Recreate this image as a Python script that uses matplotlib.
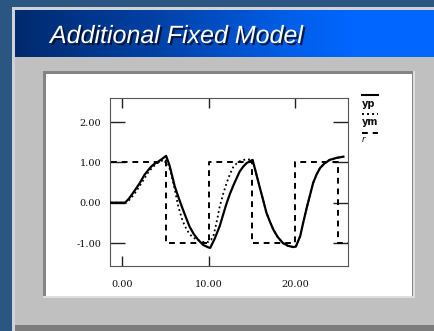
import numpy as np
import matplotlib
matplotlib.use("Agg")
import matplotlib.pyplot as plt
from matplotlib.patches import Rectangle
from matplotlib.lines import Line2D
from matplotlib import patheffects as pe
from matplotlib.colors import LinearSegmentedColormap

# ---------------- data ----------------
t_yp = [-1.3, 0.0, 0.35, 0.8, 1.5, 2.0, 2.6, 3.0, 3.4, 3.8, 4.2, 4.6, 5.1,
        5.5, 6.1, 6.5, 6.9, 7.4, 7.8, 8.3, 8.8, 9.4, 10.0, 10.2, 10.7, 11.3,
        11.7, 12.1, 12.5, 12.9, 13.3, 13.6, 14.0, 14.4, 14.8, 15.1, 15.6,
        15.9, 16.2, 16.7, 17.1, 17.5, 18.0, 18.6, 19.2, 19.8, 20.1, 20.6,
        21.0, 21.4, 21.8, 22.1, 22.5, 22.9, 23.4, 24.0, 24.8, 25.6]
yp = [0.00, 0.00, 0.00, 0.10, 0.31, 0.47, 0.69, 0.80, 0.90, 0.97, 1.02, 1.08, 1.16,
      0.92, 0.40, 0.15, -0.09, -0.37, -0.59, -0.78, -0.92, -1.05, -1.11, -1.12, -0.90, -0.58,
      -0.29, -0.01, 0.23, 0.44, 0.63, 0.77, 0.89, 0.98, 1.03, 1.06, 0.65,
      0.40, 0.16, -0.25, -0.47, -0.67, -0.85, -1.00, -1.07, -1.10, -1.09, -0.83,
      -0.45, -0.09, 0.24, 0.49, 0.70, 0.86, 0.97, 1.06, 1.11, 1.14]

t_ym = [-1.3, 0.0, 0.5, 1.0, 1.5, 2.0, 2.5, 3.0, 3.5, 4.0, 4.5, 5.0, 5.3, 5.7,
        6.1, 6.5, 7.0, 7.5, 8.0, 8.5, 9.0, 9.5, 10.0, 10.3, 10.6, 11.0, 11.3,
        11.7, 12.1, 12.5, 12.9, 13.4, 13.8, 14.3, 14.8, 15.1, 15.6, 15.9,
        16.2, 16.7, 17.1, 17.5, 18.0, 18.6, 19.2, 19.8, 20.1, 20.6, 21.0,
        21.4, 21.8, 22.1, 22.5, 22.9, 23.4, 24.0, 24.8, 25.6]
ym = [0.00, 0.00, 0.00, 0.10, 0.24, 0.40, 0.57, 0.74, 0.87, 0.97, 1.03, 1.07, 0.98, 0.70,
      0.33, -0.09, -0.45, -0.68, -0.82, -0.90, -0.95, -0.98, -0.97, -0.92, -0.80, -0.42, -0.09,
      0.22, 0.49, 0.72, 0.90, 1.00, 1.05, 1.07, 1.07, 1.06, 0.65, 0.40,
      0.16, -0.25, -0.47, -0.67, -0.85, -1.00, -1.07, -1.10, -1.09, -0.83, -0.45,
      -0.09, 0.24, 0.49, 0.70, 0.86, 0.97, 1.06, 1.11, 1.14]

t_r = [-1.3, 5.1, 10.0, 15.0, 20.0, 25.0, 26.1]
r = [1, -1, 1, -1, 1, -1, -1]

x_ticks = [0, 10, 20]
x_labels = ["0.00", "10.00", "20.00"]
y_ticks = [-1, 0, 1, 2]
y_labels = ["-1.00", "0.00", "1.00", "2.00"]

title = "Additional Fixed Model"
legend_labels = ["yp", "ym", "r"]

# ---------------- figure / slide background ----------------
W, H = 435, 331
fig = plt.figure(figsize=(W / 100, H / 100), dpi=100)
fig.patch.set_facecolor("#2c5682")

def rect(x0, y0, x1, y1, color, z=0):
    fig.add_artist(Rectangle((x0 / W, (H - y1) / H), (x1 - x0) / W, (y1 - y0) / H,
                             transform=fig.transFigure, facecolor=color,
                             edgecolor="none", zorder=z))

rect(12, 7, 435, 331, "#cfd3d8", 0)
rect(15, 10, 435, 325, "#c0c0c0", 0.1)
rect(15, 325, 435, 331, "#7c7c7c", 0.2)
rect(43, 71, 415, 298, "#dedede", 0.3)
rect(43, 71, 413, 296, "#858585", 0.4)
rect(46, 74, 412, 296, "#ffffff", 0.5)

# header gradient
hax = fig.add_axes([15 / W, (H - 57) / H, (435 - 15) / W, 47 / H])
hax.set_zorder(1)
cmap = LinearSegmentedColormap.from_list(
    "hdr", [(0.0, "#002a6e"), (0.35, "#0042a8"), (0.65, "#005ee8"), (0.8, "#0066ff"), (1.0, "#0066ff")])
hax.imshow(np.linspace(0, 1, 256)[None, :], aspect="auto", cmap=cmap,
           extent=[0, 1, 0, 1])
hax.set_axis_off()

fig.text(50 / W, (H - 43) / H, title, color="white", fontsize=18, style="italic",
         family=["Liberation Sans", "DejaVu Sans"], va="baseline", ha="left", zorder=6,
         path_effects=[pe.withSimplePatchShadow(offset=(1.5, -1.5),
                                                shadow_rgbFace="#001030", alpha=0.9)])

# ---------------- plot ----------------
ax = fig.add_axes([110 / W, (H - 266) / H, 238 / W, 168 / H])
ax.set_facecolor("white")
ax.set_zorder(2)
ax.plot(t_yp, yp, color="black", lw=1.6, zorder=3)
ax.plot(t_ym, ym, color="black", lw=1.3, linestyle=(0, (1, 1.6)), zorder=2)
ax.plot(t_r, r, color="black", lw=1.4, linestyle=(0, (3, 2.5)),
        drawstyle="steps-post", zorder=2)

ax.set_xlim(-1.39, 26.13)
ax.set_ylim(-1.57, 2.595)
ax.set_xticks(x_ticks)
ax.set_xticklabels(x_labels)
ax.set_yticks(y_ticks)
ax.set_yticklabels(y_labels)
ax.tick_params(direction="in", top=True, right=True, width=1.0, color="#222222",
               labelsize=7, labelcolor="#111111")
ax.tick_params(axis="x", length=7, pad=10)
ax.tick_params(axis="y", length=11, pad=6.5)
ax.xaxis.get_major_ticks()[2].tick1line.set_visible(False)
for lab in ax.get_xticklabels() + ax.get_yticklabels():
    lab.set_family(["DejaVu Serif"])
for s in ax.spines.values():
    s.set_color("#555555")
    s.set_linewidth(0.8)

# ---------------- legend (line sample above each label) ----------------
def fy(y):
    return (H - y) / H

styles = [dict(lw=1.5, ls="-"), dict(lw=1.4, ls=(0, (1, 1.6))), dict(lw=1.4, ls=(0, (3, 2.5)))]
line_y = [94.5, 114, 133]
text_y = [104, 122, 140]
for lab, st, ly, ty in zip(legend_labels, styles, line_y, text_y):
    fig.add_artist(Line2D([362 / W, 378 / W], [fy(ly), fy(ly)], transform=fig.transFigure,
                          color="black", zorder=5, **st))
    fig.text(362 / W, fy(ty), lab, fontsize=7 if lab != "r" else 6,
             fontweight="bold" if lab != "r" else "normal",
             style="normal" if lab != "r" else "italic",
             family=["DejaVu Sans"], va="center", ha="left", color="#111111", zorder=5)

fig.savefig("out.png", dpi=100, facecolor=fig.get_facecolor())
